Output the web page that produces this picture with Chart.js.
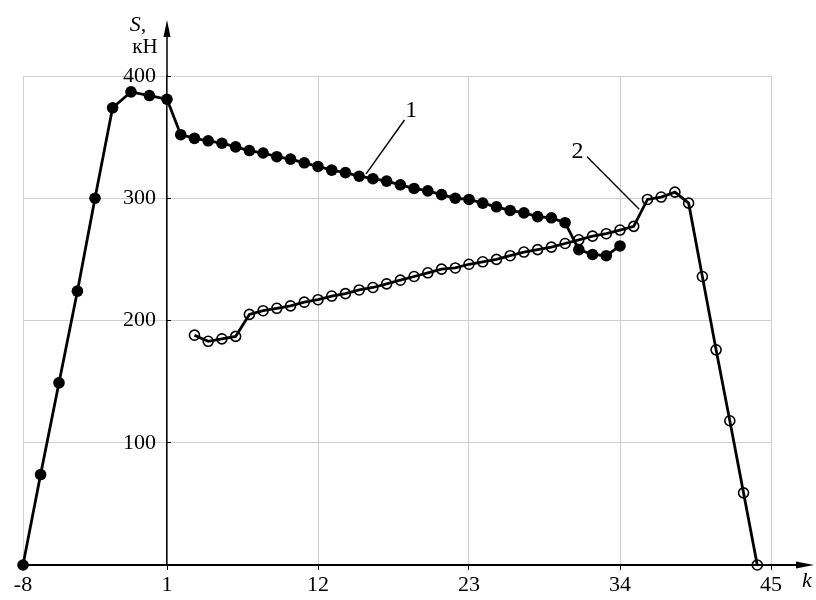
<!DOCTYPE html>
<html>
<head>
<meta charset="utf-8">
<script src="https://cdn.jsdelivr.net/npm/chart.js@4.4.1/dist/chart.umd.min.js"></script>
<style>
  html, body { margin: 0; padding: 0; background: #fff; }
  #wrap { width: 816px; height: 600px; }
</style>
</head>
<body>
<div id="wrap"><canvas id="chart" width="816" height="600"></canvas></div>
<script>
// axis ticks
const xTicks = [-8, 1, 12, 23, 34, 45];
const yTicks = [100, 200, 300, 400];

// curve 1 (filled markers)
const k1 = [-8, -6.9, -5.75, -4.6, -3.5, -2.4, -1.25, -0.1, 1,
    2, 3, 4, 5, 6, 7, 8, 9, 10, 11, 12, 13, 14, 15, 16, 17, 18,
    19, 20, 21, 22, 23, 24, 25, 26, 27, 28, 29, 30, 31, 32, 33, 34];
const s1 = [0, 74, 149, 224, 300, 374, 387, 384, 381,
    352, 349, 347, 345, 342, 339, 337, 334, 332, 329, 326, 323, 321, 318, 316, 314, 311,
    308, 306, 303, 300, 299, 296, 293, 290, 288, 285, 284, 280, 258, 254, 253, 261];

// curve 2 (open markers)
const k2 = [3, 4, 5, 6, 7, 8, 9, 10, 11, 12, 13, 14, 15, 16, 17, 18, 19, 20, 21, 22, 23,
    24, 25, 26, 27, 28, 29, 30, 31, 32, 33, 34, 35, 36, 37, 38, 39, 40, 41, 42, 43, 44];
const s2 = [188, 183, 185, 187, 205, 208, 210, 212, 215, 217, 220, 222, 225, 227, 230, 233, 236, 239, 242, 243, 246,
    248, 250, 253, 256, 258, 260, 263, 266, 269, 271, 274, 277, 299, 301, 305, 296, 236, 176, 118, 59, 0];

// the k axis of the original is drawn with a wider step left of k = 1
const BREAK_K = 1;
const LEFT_SHARE = 144 / 748;

class SplitScale extends Chart.LinearScale {
    getPixelForValue(value) {
        let t;
        if (value <= BREAK_K) {
            t = (value - this.min) / (BREAK_K - this.min) * LEFT_SHARE;
        } else {
            t = LEFT_SHARE + (value - BREAK_K) / (this.max - BREAK_K) * (1 - LEFT_SHARE);
        }
        return this.getPixelForDecimal(t);
    }
    getValueForPixel(pixel) {
        const t = this.getDecimalForPixel(pixel);
        if (t <= LEFT_SHARE) return this.min + t / LEFT_SHARE * (BREAK_K - this.min);
        return BREAK_K + (t - LEFT_SHARE) / (1 - LEFT_SHARE) * (this.max - BREAK_K);
    }
}
SplitScale.id = 'split';
SplitScale.defaults = Chart.LinearScale.defaults;
Chart.register(SplitScale);

const serif = '"Liberation Serif", "DejaVu Serif", serif';

// curve numbers with their leader lines, in data units
const notes = [
    { text: '1', at: [18.8, 372], from: [18.3, 364], to: [15.5, 320] },
    { text: '2', at: [30.9, 338], from: [31.6, 334], to: [35.4, 291] }
];

const decor = {
    id: 'decor',
    afterDraw(chart) {
        const { ctx, chartArea: a, scales: { x, y } } = chart;
        const ax = x.getPixelForValue(BREAK_K);
        const ay = y.getPixelForValue(0);
        ctx.save();
        ctx.strokeStyle = '#000';
        ctx.fillStyle = '#000';

        // y arrow
        ctx.lineWidth = 1.5;
        ctx.beginPath(); ctx.moveTo(ax, a.top); ctx.lineTo(ax, 30); ctx.stroke();
        ctx.beginPath(); ctx.moveTo(ax, 20); ctx.lineTo(ax - 3.5, 37); ctx.lineTo(ax + 3.5, 37); ctx.closePath(); ctx.fill();

        // x arrow
        ctx.lineWidth = 2;
        ctx.beginPath(); ctx.moveTo(a.right, ay); ctx.lineTo(800, ay); ctx.stroke();
        ctx.beginPath(); ctx.moveTo(814, ay); ctx.lineTo(796, ay - 3.5); ctx.lineTo(796, ay + 3.5); ctx.closePath(); ctx.fill();

        // axis names
        ctx.textAlign = 'center';
        ctx.textBaseline = 'middle';
        ctx.font = 'italic 22px ' + serif;
        ctx.fillText('S,', 138, 25);
        ctx.fillText('k', 807, 581);
        ctx.font = '21px ' + serif;
        ctx.fillText('кН', 145, 47);

        // curve numbers
        ctx.lineWidth = 1.4;
        ctx.font = '24px ' + serif;
        notes.forEach(n => {
            ctx.beginPath();
            ctx.moveTo(x.getPixelForValue(n.from[0]), y.getPixelForValue(n.from[1]));
            ctx.lineTo(x.getPixelForValue(n.to[0]), y.getPixelForValue(n.to[1]));
            ctx.stroke();
            ctx.fillText(n.text, x.getPixelForValue(n.at[0]), y.getPixelForValue(n.at[1]));
        });
        ctx.restore();
    }
};

const ctx = document.getElementById('chart').getContext('2d');
new Chart(ctx, {
    type: 'line',
    data: {
        datasets: [
            {
                label: '2',
                data: k2.map((k, i) => ({ x: k, y: s2[i] })),
                borderColor: '#000',
                borderWidth: 2.8,
                pointRadius: 5,
                pointBorderWidth: 1.6,
                pointBorderColor: '#000',
                pointBackgroundColor: 'rgba(0,0,0,0)',
                tension: 0,
                clip: false
            },
            {
                label: '1',
                data: k1.map((k, i) => ({ x: k, y: s1[i] })),
                borderColor: '#000',
                borderWidth: 2.8,
                pointRadius: 5.8,
                pointBorderWidth: 0,
                pointBackgroundColor: '#000',
                tension: 0,
                clip: false
            }
        ]
    },
    options: {
        responsive: false,
        animation: false,
        layout: { padding: { left: 23, right: 45, top: 76, bottom: 0 } },
        plugins: { legend: { display: false }, tooltip: { enabled: false } },
        scales: {
            x: {
                type: 'split',
                position: 'bottom',
                min: -8,
                max: 45,
                afterBuildTicks: s => { s.ticks = xTicks.map(v => ({ value: v })); },
                afterFit: s => { s.height = 35; },
                grid: { color: '#cfcfcf', lineWidth: 1, tickColor: '#000', tickLength: 5 },
                border: { color: '#000', width: 2 },
                ticks: {
                    color: '#000',
                    font: { family: serif, size: 22 },
                    padding: 2,
                    maxRotation: 0,
                    autoSkip: false,
                    callback: v => String(v)
                }
            },
            y: {
                position: { x: BREAK_K },
                min: 0,
                max: 400,
                afterBuildTicks: s => { s.ticks = [0, ...yTicks].map(v => ({ value: v })); },
                grid: { color: '#cfcfcf', lineWidth: 1, tickColor: '#000', tickLength: -5 },
                border: { color: '#000', width: 1.5 },
                ticks: {
                    color: '#000',
                    font: { family: serif, size: 22 },
                    callback: v => (v === 0 ? '' : v + '  ')
                }
            }
        }
    },
    plugins: [decor]
});
</script>
</body>
</html>
